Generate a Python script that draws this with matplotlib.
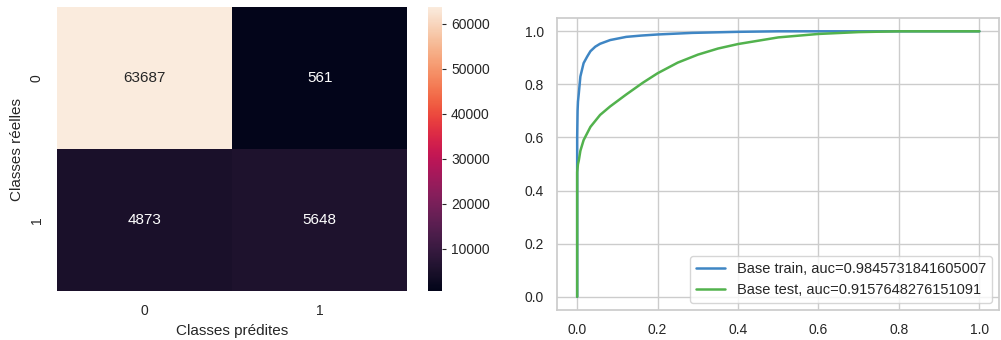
import matplotlib
matplotlib.use('Agg')
import matplotlib.pyplot as plt
import seaborn as sns
import numpy as np

# confusion matrix values
classes = ['0', '1']
conf_matrix = [[63687, 561],
               [4873, 5648]]

# ROC curves
fpr_train = [0.0, 0.0, 0.001, 0.002, 0.004, 0.008, 0.016, 0.025, 0.033, 0.045, 0.057,
             0.082, 0.122, 0.16, 0.2, 0.286, 0.4, 0.5, 0.6, 0.8, 1.0]
tpr_train = [0.0, 0.60, 0.70, 0.735, 0.765, 0.83, 0.88, 0.905, 0.925, 0.942, 0.953,
             0.967, 0.979, 0.984, 0.988, 0.994, 0.998, 1.0, 1.0, 1.0, 1.0]
fpr_test = [0.0, 0.0, 0.002, 0.004, 0.008, 0.016, 0.033, 0.057, 0.082, 0.122, 0.163,
            0.2, 0.25, 0.3, 0.35, 0.4, 0.5, 0.6, 0.7, 0.8, 1.0]
tpr_test = [0.0, 0.47, 0.50, 0.513, 0.55, 0.59, 0.64, 0.685, 0.717, 0.762, 0.806,
            0.842, 0.882, 0.912, 0.935, 0.952, 0.977, 0.99, 0.997, 1.0, 1.0]
auc_train = 0.9845731841605007
auc_test = 0.9157648276151091

sns.set_theme(style='whitegrid')
plt.rcParams['font.family'] = ['Liberation Sans', 'DejaVu Sans']

fig = plt.figure(figsize=(10.01, 3.4), dpi=100)

# heatmap
ax1 = fig.add_axes([0.057, 0.144, 0.350, 0.835])
cax = fig.add_axes([0.4276, 0.144, 0.014, 0.835])
sns.heatmap(np.array(conf_matrix), annot=True, fmt='d', ax=ax1, cbar_ax=cax,
            xticklabels=classes, yticklabels=classes, annot_kws={'fontsize': 11})
ax1.set_xlabel('Classes prédites', fontsize=11)
ax1.set_ylabel('Classes réelles', fontsize=11)
ax1.tick_params(labelsize=10)
cax.tick_params(labelsize=10, length=3, width=0.8, color='.15')

# roc curves
ax2 = fig.add_axes([0.5565, 0.088, 0.442, 0.859])
ax2.plot(fpr_train, tpr_train, color='#3f86c4', lw=1.8,
         label='Base train, auc=' + str(auc_train))
ax2.plot(fpr_test, tpr_test, color='#52b24d', lw=1.8,
         label='Base test, auc=' + str(auc_test))
ax2.set_xticks(np.arange(0, 1.01, 0.2))
ax2.set_yticks(np.arange(0, 1.01, 0.2))
ax2.tick_params(labelsize=10)
ax2.legend(loc='lower right', fontsize=10.5)

fig.savefig('out.png', dpi=100)
